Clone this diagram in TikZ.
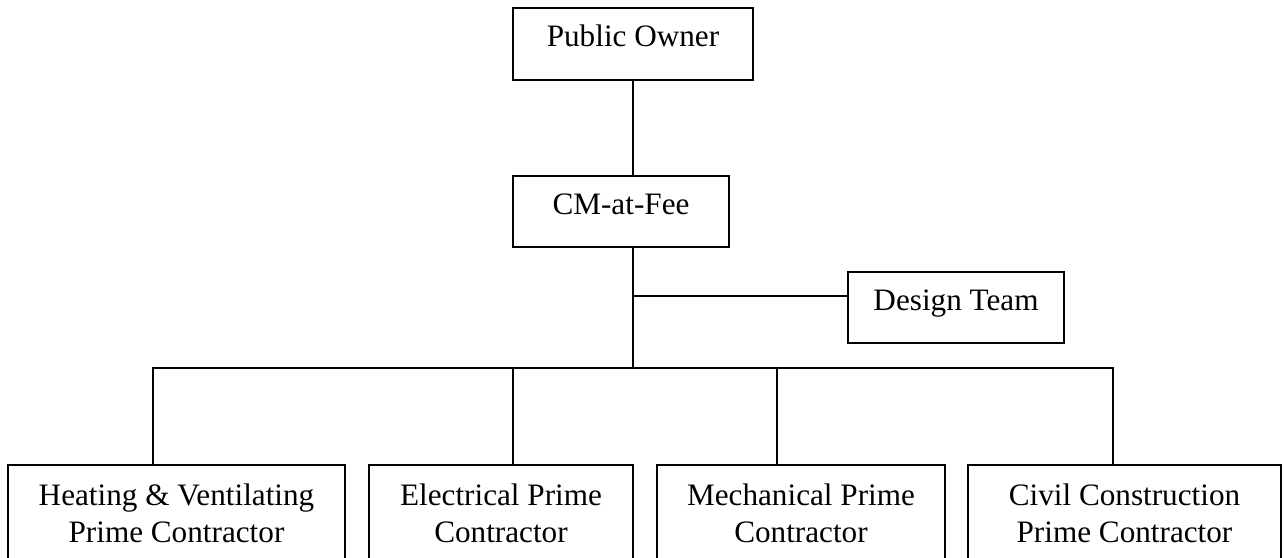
\documentclass[tikz,border=0pt]{standalone}
\usepackage{fontspec}
\setmainfont{Liberation Serif}
\usepackage{tikz}
\usetikzlibrary{positioning, calc}

\begin{document}
\begin{tikzpicture}[
            x=0.5pt, y=-0.5pt,
            block/.style={rectangle, draw=black, line width=1.1pt, fill=white, align=center, inner sep=2pt, font=\fontsize{15.6}{18.9}\selectfont, text height=10.7pt, text depth=8pt},
            prime/.style={block, anchor=north, minimum height=51.6pt, text height=29.6pt, text depth=3.4pt},
            link/.style={line width=1.1pt, color=black}
        ]
            \useasboundingbox (0,0) rectangle (1285,557);

            % Owner and CM (top)
            \node[block, minimum width=120pt, minimum height=36pt] (owner) at (633,44) {Public Owner};
            \node[block, minimum width=108pt, minimum height=35.5pt] (cm) at (621,211.5) {CM-at-Fee};
            \node[block, minimum width=108pt, minimum height=35.5pt] (design) at (956,307.5) {Design Team};

            % Prime contractors (bottom)
            \node[prime, minimum width=168.5pt] (heat) at (176.5,464) {Heating \& Ventilating\\Prime Contractor};
            \node[prime, minimum width=132pt] (elec) at (501,464) {Electrical Prime\\Contractor};
            \node[prime, minimum width=144pt] (mech) at (801,464) {Mechanical Prime\\Contractor};
            \node[prime, minimum width=156.5pt] (civil) at (1124.5,464) {Civil Construction\\Prime Contractor};

            % Junction points
            \coordinate (tap) at (633,296);
            \coordinate (hub) at (633,368);
            \coordinate (j1) at (153,368);
            \coordinate (j2) at (513,368);
            \coordinate (j3) at (777,368);
            \coordinate (j4) at (1113,368);

            % Trunk
            \draw[link] (owner.south) -- (owner.south |- cm.north);
            \draw[link] (owner.south |- cm.south) -- (hub);
            \draw[link] (tap) -- (tap -| design.west);

            % Bus to the prime contractors
            \draw[link] (j1 |- heat.north) -- (j1) -- (j4) -- (j4 |- civil.north);
            \draw[link] (j2) -- (j2 |- elec.north);
            \draw[link] (j3) -- (j3 |- mech.north);
        \end{tikzpicture}
\end{document}
